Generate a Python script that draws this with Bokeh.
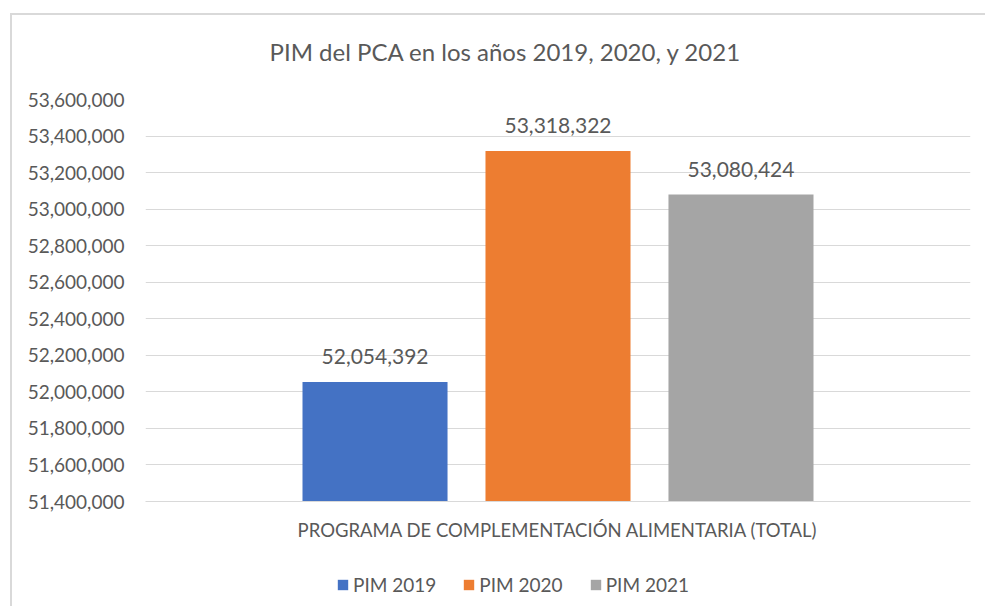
from bokeh.plotting import figure
from bokeh.layouts import column
from bokeh.models import (Range1d, FactorRange, SingleIntervalTicker, NumeralTickFormatter,
                          ColumnDataSource, Legend, LegendItem, Title, InlineStyleSheet)
from bokeh.transform import dodge
from bokeh.core.properties import value
from bokeh.embed import file_html
from bokeh.resources import INLINE

# ---- data ----
categories = ["PROGRAMA DE COMPLEMENTACIÓN ALIMENTARIA (TOTAL)"]
series = ["PIM 2019", "PIM 2020", "PIM 2021"]
values = [52054392, 53318322, 53080424]
colors = ["#4472C4", "#ED7D31", "#A5A5A5"]
y_min, y_max, y_step = 51_400_000, 53_600_000, 200_000
title_text = "PIM del PCA en los años 2019, 2020, y 2021"

FONT = "Lato"
TXT = "#595959"

p = figure(frame_width=825, frame_height=402, output_backend="svg", toolbar_location=None,
           x_range=FactorRange(factors=categories, range_padding=0),
           y_range=Range1d(y_min, y_max),
           min_border_left=145, min_border_right=15, min_border_top=99, min_border_bottom=59)
p.outline_line_color = None
p.background_fill_color = "white"
p.border_fill_color = "white"

# legend strip (second figure, same data sources)
p2 = figure(width=985, height=46, output_backend="svg", toolbar_location=None,
            x_range=p.x_range, y_range=p.y_range, x_axis_location=None, y_axis_location=None,
            min_border=0, min_border_left=0, min_border_right=0, min_border_top=0, min_border_bottom=0)
p2.outline_line_color = None
p2.grid.visible = False
p2.background_fill_color = "white"
p2.border_fill_color = "white"

offsets = [-0.2218, 0.0, 0.2218]
bar_w = 0.1758
items = []
for s, v, c, off in zip(series, values, colors, offsets):
    src = ColumnDataSource(dict(cat=categories, val=[v], lbl=[f"{v:,}"]))
    p.vbar(x=dodge("cat", off, range=p.x_range), top="val", bottom=y_min, width=bar_w,
           source=src, fill_color=c, line_color=None)
    p.text(x=dodge("cat", off, range=p.x_range), y="val", text="lbl", source=src,
           text_align="center", text_baseline="alphabetic", y_offset=-25,
           text_font=value(FONT), text_font_size="21px", text_color=TXT)
    r2 = p2.vbar(x=dodge("cat", off, range=p.x_range), top="val", bottom=y_min, width=bar_w,
                 source=src, fill_color=c, line_color=None, visible=False)
    items.append(LegendItem(label=s, renderers=[r2]))

# axes
p.yaxis.ticker = SingleIntervalTicker(interval=y_step)
p.yaxis.formatter = NumeralTickFormatter(format="0,0")
p.yaxis.axis_line_color = None
p.yaxis.major_tick_line_color = None
p.yaxis.minor_tick_line_color = None
p.yaxis.major_label_standoff = 15
p.yaxis.major_label_text_font = FONT
p.yaxis.major_label_text_font_size = "19px"
p.yaxis.major_label_text_color = TXT

p.xaxis.axis_line_color = "#d9d9d9"
p.xaxis.axis_line_width = 1
p.xaxis.major_tick_line_color = None
p.xaxis.minor_tick_line_color = None
p.xaxis.major_label_standoff = 11
p.xaxis.major_label_text_font = FONT
p.xaxis.major_label_text_font_size = "18.5px"
p.xaxis.major_label_text_color = TXT

p.xgrid.grid_line_color = None
p.ygrid.grid_line_color = "#d9d9d9"
p.ygrid.grid_line_width = 1

# title
p.add_layout(Title(text=title_text, align="left", offset=124, standoff=68,
                   text_font=FONT, text_font_size="24px", text_font_style="normal",
                   text_color=TXT), "above")

legend = Legend(items=items, orientation="horizontal", location=(191, 10),
                glyph_width=13, glyph_height=13, label_standoff=4, spacing=26,
                padding=0, margin=0, border_line_alpha=0, background_fill_alpha=0,
                inactive_fill_alpha=0,
                label_text_font=FONT, label_text_font_size="19px", label_text_color=TXT)
p2.add_layout(legend)

layout = column(p, p2, spacing=0)
layout.stylesheets = [InlineStyleSheet(css=":host::after{content:'';position:absolute;left:10px;top:13px;"
                                           "right:0;bottom:0;border-left:2px solid #d9d9d9;"
                                           "border-top:2px solid #d9d9d9;pointer-events:none;}")]

open("out.html", "w").write(file_html(layout, INLINE))
